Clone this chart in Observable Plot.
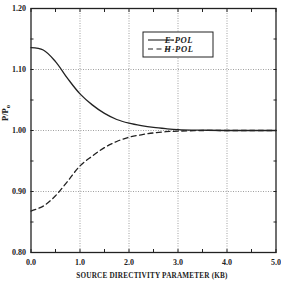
<!DOCTYPE html>
<html>
<head>
<meta charset="utf-8">
<script src="https://cdn.jsdelivr.net/npm/d3@7"></script>
<script src="https://cdn.jsdelivr.net/npm/@observablehq/plot@0.6"></script>
<style>
  html, body { margin: 0; padding: 0; background: #fff; }
  #chart { width: 281px; height: 281px; }
</style>
</head>
<body>
<div id="chart"></div>
<script>
// Source directivity parameter KB
const kb = [0, 0.25, 0.5, 0.75, 1.0, 1.25, 1.5, 1.75, 2.0, 2.25, 2.5, 2.75, 3.0, 3.5, 4.0, 4.5, 5.0];
// Normalized power P/Po for each polarization
const ePol = [1.136, 1.132, 1.113, 1.085, 1.060, 1.042, 1.028, 1.018, 1.012, 1.008, 1.005, 1.003, 1.0015, 1.0005, 1.0, 1.0, 1.0];
const hPol = [0.868, 0.876, 0.893, 0.917, 0.942, 0.958, 0.972, 0.982, 0.989, 0.993, 0.996, 0.998, 0.999, 1.0, 1.0, 1.0, 1.0];
const seriesNames = ["E-POL", "H-POL"];
const xTicks = [0, 1, 2, 3, 4, 5];
const xTickLabels = ["0.0", "1.0", "2.0", "3.0", "4.0", "5.0"];
const yTicks = [0.8, 0.9, 1.0, 1.1, 1.2];
const yTickLabels = ["0.80", "0.90", "1.00", "1.10", "1.20"];
const xMinor = d3.range(0, 5.001, 0.5);
const yMinor = d3.range(0.8, 1.2001, 0.05);

const rows = kb.flatMap((k, i) => [
  {kb: k, p: ePol[i], series: seriesNames[0]},
  {kb: k, p: hPol[i], series: seriesNames[1]}
]);

const font = "'Liberation Serif', 'DejaVu Serif', serif";
const ink = "#222";

const plot = Plot.plot({
  width: 281,
  height: 281,
  marginLeft: 30.5,
  marginRight: 5.5,
  marginTop: 8,
  marginBottom: 29,
  style: {fontFamily: font, fontWeight: "bold", fontSize: "8px", color: ink, background: "#fff"},
  x: {domain: [0, 5]},
  y: {domain: [0.8, 1.2]},
  marks: [
    Plot.gridX(xTicks.slice(1, -1), {stroke: "#555", strokeOpacity: 0.8, strokeDasharray: "1,1.5", strokeWidth: 0.7}),
    Plot.gridY(yTicks.slice(1, -1), {stroke: "#555", strokeOpacity: 0.8, strokeDasharray: "1,1.5", strokeWidth: 0.7}),
    // inward minor ticks on all four sides
    Plot.axisX(xMinor, {anchor: "bottom", tickSize: -3, text: null, label: null, stroke: ink}),
    Plot.axisX(xMinor, {anchor: "top", tickSize: -3, text: null, label: null, stroke: ink}),
    Plot.axisY(yMinor, {anchor: "left", tickSize: -3, text: null, label: null, stroke: ink}),
    Plot.axisY(yMinor, {anchor: "right", tickSize: -3, text: null, label: null, stroke: ink}),
    Plot.axisX(xTicks, {anchor: "bottom", tickSize: 0, tickPadding: 6.5, tickFormat: (d, i) => xTickLabels[i], label: null, fontWeight: "bold", fill: ink}),
    Plot.axisY(yTicks, {anchor: "left", tickSize: 0, tickPadding: 5, tickFormat: (d, i) => yTickLabels[i], label: null, fontWeight: "bold", fill: ink}),
    Plot.frame({stroke: ink, strokeWidth: 1.3}),
    Plot.line(rows.filter(d => d.series === "E-POL"), {x: "kb", y: "p", curve: "catmull-rom", stroke: ink, strokeWidth: 1.3}),
    Plot.line(rows.filter(d => d.series === "H-POL"), {x: "kb", y: "p", curve: "catmull-rom", stroke: ink, strokeWidth: 1.3, strokeDasharray: "5,3.5"})
  ]
});

document.getElementById("chart").appendChild(plot);

// axis titles and legend
const svg = d3.select(plot);
svg.append("text")
  .attr("x", 152).attr("y", 278)
  .attr("text-anchor", "middle")
  .style("font-family", font).style("font-weight", "bold").style("font-size", "7.2px")
  .style("letter-spacing", "0.2px")
  .attr("fill", ink)
  .text("SOURCE DIRECTIVITY PARAMETER (KB)");

const yl = svg.append("text")
  .attr("transform", "translate(8,113) rotate(-90)")
  .attr("text-anchor", "middle")
  .style("font-family", font).style("font-weight", "bold").style("font-size", "8.5px")
  .attr("fill", ink);
yl.append("tspan").text("P/P");
yl.append("tspan").attr("dy", 1.5).style("font-size", "6.5px").text("o");

const lg = svg.append("g").attr("transform", "translate(143,32)");
lg.append("rect").attr("width", 70).attr("height", 25)
  .attr("fill", "#fff").attr("stroke", ink).attr("stroke-width", 1);
seriesNames.forEach((name, i) => {
  const y = 8 + i * 9;
  lg.append("line").attr("x1", 5).attr("x2", 31).attr("y1", y).attr("y2", y)
    .attr("stroke", ink).attr("stroke-width", 1.1)
    .attr("stroke-dasharray", i === 1 ? "5,3.5" : null);
  lg.append("text").attr("x", 36).attr("y", y + 3)
    .style("font-family", font).style("font-style", "italic").style("font-size", "8.6px")
    .style("letter-spacing", "0.6px")
    .attr("fill", ink)
    .text(name);
});
</script>
</body>
</html>
